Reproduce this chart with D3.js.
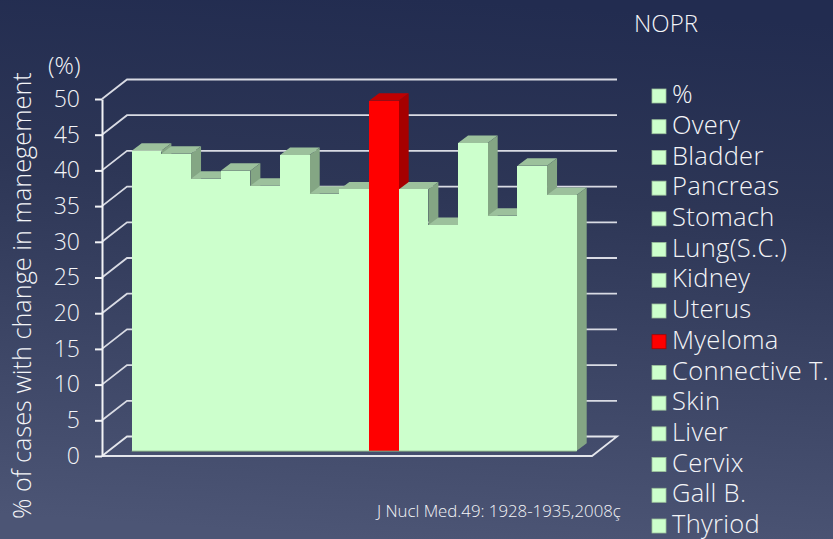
<!DOCTYPE html>
<html>
<head>
<meta charset="utf-8">
<script src="https://cdn.jsdelivr.net/npm/d3@7"></script>
<style>
  html, body { margin: 0; padding: 0; background: #2e3656; }
  text { font-family: "Open Sans", sans-serif; font-weight: 300; fill: #f4f5f8; }
</style>
</head>
<body>
<div id="my_dataviz"></div>
<script>
var categories = ["%", "Overy", "Bladder", "Pancreas", "Stomach", "Lung(S.C.)", "Kidney", "Uterus",
  "Myeloma", "Connective T.", "Skin", "Liver", "Cervix", "Gall B.", "Thyriod"];
var values = [42, 41.6, 38.1, 39.2, 37.1, 41.4, 36, 36.6, 49, 36.6, 31.6, 43.1, 32.9, 39.9, 35.8];
var yTicks = [0, 5, 10, 15, 20, 25, 30, 35, 40, 45, 50];
var highlight = "Myeloma";

var width = 833, height = 539;

var svg = d3.select("#my_dataviz")
  .append("svg")
    .attr("width", width)
    .attr("height", height)
    .style("display", "block");

// slide background
var defs = svg.append("defs");
var bg = defs.append("linearGradient")
    .attr("id", "bg")
    .attr("x1", 0.55).attr("y1", 0)
    .attr("x2", 0.45).attr("y2", 1);
bg.append("stop").attr("offset", "0%").attr("stop-color", "#222c50");
bg.append("stop").attr("offset", "35%").attr("stop-color", "#2d3656");
bg.append("stop").attr("offset", "100%").attr("stop-color", "#4c5575");
svg.append("rect").attr("width", width).attr("height", height).attr("fill", "url(#bg)");

// scales, the plot is a fake 3d box
var y = d3.scaleLinear().domain([0, 50]).range([456, 99]);
var x = d3.scaleBand().domain(categories).range([131.7, 576.7]);
var axisX = 102, floorRight = 592;
var wallDx = 25, wallDy = -19.5;    // front plane to back wall
var barDx = 10, barDy = -7.5;       // depth of a bar
var barShiftY = -5.3;               // bars stand a little behind the front edge

var grid = svg.append("g");

// floor
grid.append("path")
    .attr("fill", "none")
    .attr("stroke", "#e4e6ec")
    .attr("stroke-width", 1.8)
    .attr("d", d3.line()([
      [axisX, y(0)],
      [floorRight, y(0)],
      [floorRight + wallDx, y(0) + wallDy],
      [axisX + wallDx, y(0) + wallDy],
      [axisX, y(0)]
    ]));

// wall lines
yTicks.slice(1).forEach(function(t) {
  grid.append("path")
      .attr("fill", "none")
      .attr("stroke", "#d9dbe4")
      .attr("stroke-width", 1.8)
      .attr("d", d3.line()([
        [axisX, y(t)],
        [axisX + wallDx, y(t) + wallDy],
        [floorRight + wallDx, y(t) + wallDy]
      ]));
});

// y axis
var axis = svg.append("g")
    .attr("transform", "translate(" + axisX + ",0)")
    .call(d3.axisLeft(y).tickValues(yTicks).tickSize(7).tickSizeOuter(0).tickPadding(15));
axis.select(".domain").attr("stroke", "#f2f3f6").attr("stroke-width", 2);
axis.selectAll(".tick line").attr("stroke", "#f2f3f6").attr("stroke-width", 2);
axis.selectAll(".tick text")
    .style("font-size", "23px")
    .style("font-family", "\"Open Sans\", sans-serif")
    .attr("fill", "#f4f5f8");

// bars, left to right so the next one hides the side of the last
var bars = svg.append("g")
  .selectAll("g")
  .data(categories)
  .enter()
  .append("g");

function fillFront(d) { return d === highlight ? "#ff0000" : "#ccffcc"; }
function fillTop(d) { return d === highlight ? "#bf0000" : "#9cc19c"; }
function fillSide(d) { return d === highlight ? "#a60000" : "#84a684"; }
function val(d) { return values[categories.indexOf(d)]; }

bars.append("path")
    .attr("fill", fillTop)
    .attr("d", function(d) {
      var x0 = x(d), x1 = x(d) + x.bandwidth(), t = y(val(d)) + barShiftY;
      return d3.line()([[x0, t], [x0 + barDx, t + barDy], [x1 + barDx, t + barDy], [x1, t]]) + "Z";
    });

bars.append("path")
    .attr("fill", fillSide)
    .attr("d", function(d) {
      var x1 = x(d) + x.bandwidth(), t = y(val(d)) + barShiftY, b = y(0) + barShiftY;
      return d3.line()([[x1, t], [x1 + barDx, t + barDy], [x1 + barDx, b + barDy], [x1, b]]) + "Z";
    });

// crisp edges, otherwise a seam shows between neighbours
bars.append("rect")
    .attr("x", function(d) { return x(d); })
    .attr("y", function(d) { return y(val(d)) + barShiftY; })
    .attr("width", x.bandwidth())
    .attr("height", function(d) { return y(0) - y(val(d)); })
    .attr("fill", fillFront)
    .attr("shape-rendering", "crispEdges");

// thin dark edge under the bars
svg.append("line")
    .attr("x1", x.range()[0]).attr("x2", x.range()[1])
    .attr("y1", y(0) + barShiftY + 0.5).attr("y2", y(0) + barShiftY + 0.5)
    .attr("stroke", "#84a684")
    .attr("stroke-width", 1);

// legend
var legendY = d3.scalePoint().domain(categories).range([96, 526]);
var legend = svg.append("g")
  .selectAll("g")
  .data(categories)
  .enter()
  .append("g")
    .attr("transform", function(d) { return "translate(652," + legendY(d) + ")"; });

legend.append("rect")
    .attr("y", -7)
    .attr("width", 14)
    .attr("height", 14)
    .attr("fill", fillFront)
    .attr("stroke", function(d) { return d === highlight ? "#a60000" : "#9cc19c"; })
    .attr("stroke-width", 0.8);

legend.append("text")
    .attr("x", 20)
    .attr("y", 7.2)
    .style("font-size", "25.5px")
    .style("letter-spacing", "0.3px")
    .text(function(d) { return d; });

// titles
svg.append("text")
    .attr("x", 634).attr("y", 32)
    .style("font-size", "24px")
    .text("NOPR");

svg.append("text")
    .attr("x", 48).attr("y", 74)
    .style("font-size", "24px")
    .text("(%)");

svg.append("text")
    .attr("transform", "translate(31,519) rotate(-90)")
    .style("font-size", "25.3px")
    .text("% of cases with change in manegement");

svg.append("text")
    .attr("x", 377).attr("y", 517)
    .style("font-size", "16.8px")
    .text("J Nucl Med.49: 1928-1935,2008ç");
</script>
</body>
</html>
